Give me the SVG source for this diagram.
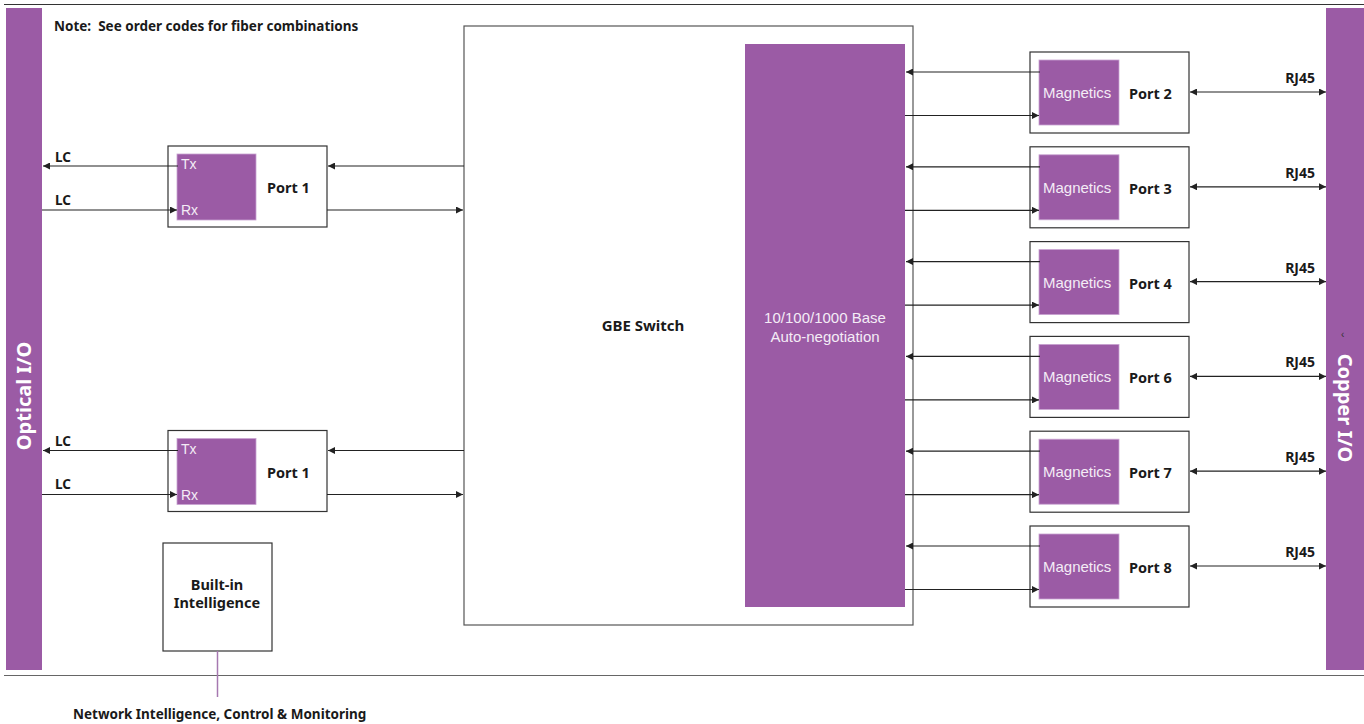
<svg xmlns="http://www.w3.org/2000/svg" width="1364" height="724" viewBox="0 0 1364 724">
<style>
.bar{fill:#9b5ba5}
.pur{fill:#9b5ba5;stroke:#c9a3d1;stroke-width:0.8}
.box{fill:#fff;stroke:#333;stroke-width:1.2}
.ln{stroke:#222;stroke-width:1.2;fill:none}
.b{font-family:"Noto Sans","Open Sans",sans-serif;font-weight:bold;fill:#1a1a1a}
.w{font-family:"Liberation Sans",Arial,sans-serif;fill:#f4ecf6}
.wb{font-family:"Noto Sans","Open Sans",sans-serif;font-weight:bold;fill:#fff;font-size:20px}
</style>
<defs>
<marker id="ah" viewBox="0 0 8 8" refX="8" refY="4" markerWidth="7" markerHeight="7" orient="auto-start-reverse" markerUnits="userSpaceOnUse">
<path d="M0,0 L8,4 L0,8 z" fill="#222"/>
</marker>
</defs>
<rect width="1364" height="724" fill="#fff"/>
<line x1="4" y1="4.5" x2="1364" y2="4.5" stroke="#333" stroke-width="1.2"/>
<line x1="4" y1="675.5" x2="1364" y2="675.5" stroke="#666" stroke-width="1.2"/>

<g id="optical-io">
<rect class="bar" x="6" y="8" width="36" height="662"/>
<text class="wb" transform="translate(31,396) rotate(-90)" text-anchor="middle">Optical I/O</text>
</g>
<g id="copper-io">
<rect class="bar" x="1326" y="8" width="38" height="662"/>
<text class="wb" transform="translate(1338,408) rotate(90)" text-anchor="middle">Copper I/O</text>
<text x="1341" y="338" font-family="Liberation Sans,sans-serif" font-size="10" fill="#333">‹</text>
</g>
<text class="b" x="54" y="31" font-size="13.5" xml:space="preserve">Note:  See order codes for fiber combinations</text>

<g id="gbe-switch">
<rect x="464" y="26" width="449" height="599" fill="#fff" stroke="#555" stroke-width="1.2"/>
<text class="b" x="643" y="331" font-size="15" text-anchor="middle">GBE Switch</text>
</g>
<g id="autoneg">
<rect class="bar" x="745" y="44" width="160" height="563"/>
<text class="w" x="825" y="323" font-size="15" text-anchor="middle">10/100/1000 Base</text>
<text class="w" x="825" y="342" font-size="15" text-anchor="middle">Auto-negotiation</text>
</g>

<g id="port1-top">
<rect class="box" x="168" y="146" width="159" height="81"/>
<rect class="pur" x="177" y="154" width="79" height="66"/>
<text class="w" x="181" y="169" font-size="14">Tx</text>
<text class="w" x="181" y="215" font-size="14">Rx</text>
<text class="b" x="267" y="193" font-size="14.5">Port 1</text>
</g>
<g id="port1-bottom">
<rect class="box" x="168" y="430.5" width="159" height="81"/>
<rect class="pur" x="177" y="438.5" width="79" height="66"/>
<text class="w" x="181" y="453.5" font-size="14">Tx</text>
<text class="w" x="181" y="499.5" font-size="14">Rx</text>
<text class="b" x="267" y="477.5" font-size="14.5">Port 1</text>
</g>
<g id="built-in">
<rect class="box" x="163" y="543" width="109" height="108"/>
<text class="b" x="217" y="590" font-size="14.5" text-anchor="middle">Built-in</text>
<text class="b" x="217" y="608" font-size="14.5" text-anchor="middle">Intelligence</text>
</g>
<text class="b" x="73" y="719" font-size="13.5">Network Intelligence, Control &amp; Monitoring</text>

<g id="port2">
<rect class="box" x="1030" y="52" width="159" height="81"/>
<rect class="pur" x="1039" y="60" width="80" height="65"/>
<text class="w" x="1043" y="98" font-size="15">Magnetics</text>
<text class="b" x="1129" y="99" font-size="14.5">Port 2</text>
</g>
<g id="port3">
<rect class="box" x="1030" y="146.8" width="159" height="81"/>
<rect class="pur" x="1039" y="154.8" width="80" height="65"/>
<text class="w" x="1043" y="192.8" font-size="15">Magnetics</text>
<text class="b" x="1129" y="193.8" font-size="14.5">Port 3</text>
</g>
<g id="port4">
<rect class="box" x="1030" y="241.6" width="159" height="81"/>
<rect class="pur" x="1039" y="249.6" width="80" height="65"/>
<text class="w" x="1043" y="287.6" font-size="15">Magnetics</text>
<text class="b" x="1129" y="288.6" font-size="14.5">Port 4</text>
</g>
<g id="port6">
<rect class="box" x="1030" y="336.4" width="159" height="81"/>
<rect class="pur" x="1039" y="344.4" width="80" height="65"/>
<text class="w" x="1043" y="382.4" font-size="15">Magnetics</text>
<text class="b" x="1129" y="383.4" font-size="14.5">Port 6</text>
</g>
<g id="port7">
<rect class="box" x="1030" y="431.2" width="159" height="81"/>
<rect class="pur" x="1039" y="439.2" width="80" height="65"/>
<text class="w" x="1043" y="477.2" font-size="15">Magnetics</text>
<text class="b" x="1129" y="478.2" font-size="14.5">Port 7</text>
</g>
<g id="port8">
<rect class="box" x="1030" y="526" width="159" height="81"/>
<rect class="pur" x="1039" y="534" width="80" height="65"/>
<text class="w" x="1043" y="572" font-size="15">Magnetics</text>
<text class="b" x="1129" y="573" font-size="14.5">Port 8</text>
</g>

<g id="labels">
<text class="b" x="55" y="162" font-size="13.5">LC</text>
<text class="b" x="55" y="205" font-size="13.5">LC</text>
<text class="b" x="55" y="446" font-size="13.5">LC</text>
<text class="b" x="55" y="489" font-size="13.5">LC</text>
<text class="b" x="1315" y="83" font-size="14" text-anchor="end">RJ45</text>
<text class="b" x="1315" y="177.8" font-size="14" text-anchor="end">RJ45</text>
<text class="b" x="1315" y="272.6" font-size="14" text-anchor="end">RJ45</text>
<text class="b" x="1315" y="367.4" font-size="14" text-anchor="end">RJ45</text>
<text class="b" x="1315" y="462.2" font-size="14" text-anchor="end">RJ45</text>
<text class="b" x="1315" y="557" font-size="14" text-anchor="end">RJ45</text>
</g>

<g id="connectors">
<line class="ln" x1="178" y1="166" x2="43" y2="166" marker-end="url(#ah)"/>
<line class="ln" x1="42" y1="210" x2="177" y2="210" marker-end="url(#ah)"/>
<line class="ln" x1="464" y1="166" x2="328" y2="166" marker-end="url(#ah)"/>
<line class="ln" x1="327" y1="210" x2="463" y2="210" marker-end="url(#ah)"/>
<line class="ln" x1="178" y1="450.5" x2="43" y2="450.5" marker-end="url(#ah)"/>
<line class="ln" x1="42" y1="494.5" x2="177" y2="494.5" marker-end="url(#ah)"/>
<line class="ln" x1="464" y1="450.5" x2="328" y2="450.5" marker-end="url(#ah)"/>
<line class="ln" x1="327" y1="494.5" x2="463" y2="494.5" marker-end="url(#ah)"/>
<line x1="217.5" y1="651" x2="217.5" y2="697" stroke="#a678b0" stroke-width="1.5"/>

<line class="ln" x1="1040" y1="72" x2="906" y2="72" marker-end="url(#ah)"/>
<line class="ln" x1="905" y1="115.5" x2="1039" y2="115.5" marker-end="url(#ah)"/>
<line class="ln" x1="1190" y1="92" x2="1326" y2="92" marker-start="url(#ah)" marker-end="url(#ah)"/>

<line class="ln" x1="1040" y1="166.8" x2="906" y2="166.8" marker-end="url(#ah)"/>
<line class="ln" x1="905" y1="210.3" x2="1039" y2="210.3" marker-end="url(#ah)"/>
<line class="ln" x1="1190" y1="186.8" x2="1326" y2="186.8" marker-start="url(#ah)" marker-end="url(#ah)"/>

<line class="ln" x1="1040" y1="261.6" x2="906" y2="261.6" marker-end="url(#ah)"/>
<line class="ln" x1="905" y1="305.1" x2="1039" y2="305.1" marker-end="url(#ah)"/>
<line class="ln" x1="1190" y1="281.6" x2="1326" y2="281.6" marker-start="url(#ah)" marker-end="url(#ah)"/>

<line class="ln" x1="1040" y1="356.4" x2="906" y2="356.4" marker-end="url(#ah)"/>
<line class="ln" x1="905" y1="399.9" x2="1039" y2="399.9" marker-end="url(#ah)"/>
<line class="ln" x1="1190" y1="376.4" x2="1326" y2="376.4" marker-start="url(#ah)" marker-end="url(#ah)"/>

<line class="ln" x1="1040" y1="451.2" x2="906" y2="451.2" marker-end="url(#ah)"/>
<line class="ln" x1="905" y1="494.7" x2="1039" y2="494.7" marker-end="url(#ah)"/>
<line class="ln" x1="1190" y1="471.2" x2="1326" y2="471.2" marker-start="url(#ah)" marker-end="url(#ah)"/>

<line class="ln" x1="1040" y1="546" x2="906" y2="546" marker-end="url(#ah)"/>
<line class="ln" x1="905" y1="589.5" x2="1039" y2="589.5" marker-end="url(#ah)"/>
<line class="ln" x1="1190" y1="566" x2="1326" y2="566" marker-start="url(#ah)" marker-end="url(#ah)"/>
</g>
</svg>
